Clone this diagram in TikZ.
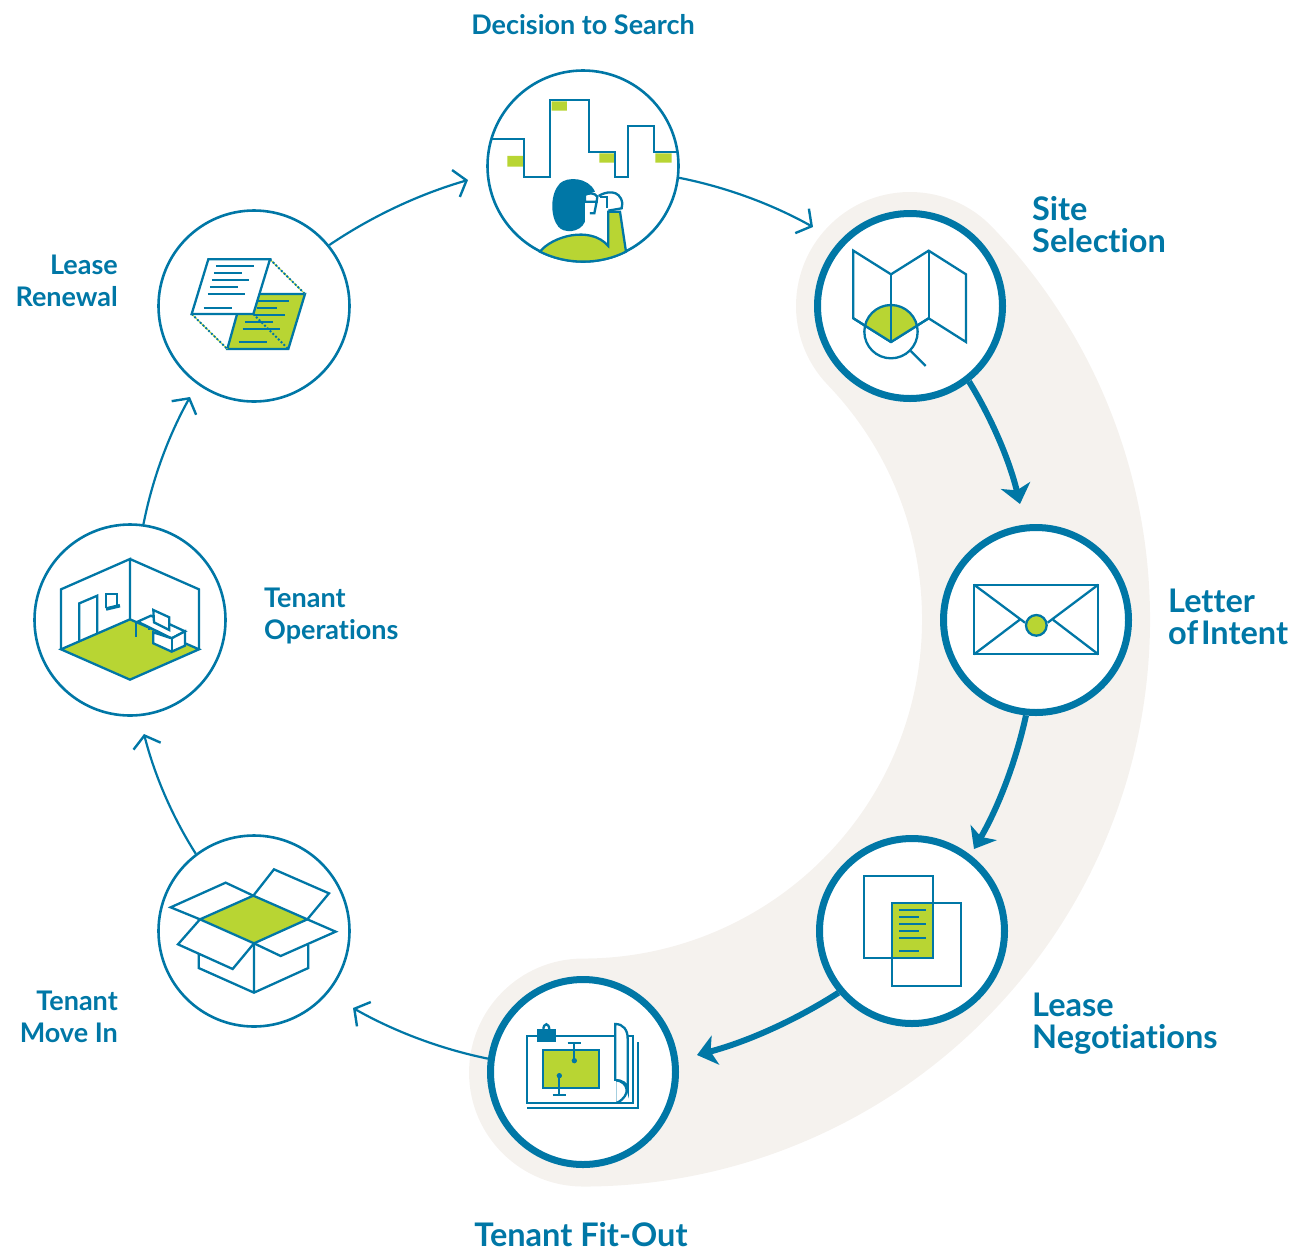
\documentclass[tikz,border=0pt]{standalone}
\usepackage{fontspec}
\usetikzlibrary{arrows.meta}
\setmainfont{Lato}[Ligatures=NoCommon]
\definecolor{leaseblue}{HTML}{0077A6}
\definecolor{leasegreen}{HTML}{B8D533}
\definecolor{leasesand}{HTML}{F5F2EE}
\tikzset{
    stagenode/.style={circle, draw=leaseblue, fill=white, line width=2.6pt, minimum size=191pt, inner sep=0pt},
    activenode/.style={circle, draw=leaseblue, fill=white, line width=7pt, minimum size=185pt, inner sep=0pt},
    smalllabel/.style={font=\fontsize{27}{32}\selectfont\bfseries, text=leaseblue, inner sep=0pt},
    biglabel/.style={font=\fontsize{32.5}{32}\selectfont\bfseries, text=leaseblue, inner sep=0pt},
    thinarrow/.style={draw=leaseblue, line width=2.2pt, -{Straight Barb[length=11pt, width=28pt, line width=2.4pt]}},
    thickarrow/.style={draw=leaseblue, line width=6pt, -{Stealth[length=19pt, width=30pt, inset=5pt]}},
    ringbend/.style={bend left=9, looseness=0.85},
    iconzoom/.style 2 args={shift={(#1,#2)}, x=0.3333pt, y=-0.3333pt},
    iconline/.style={draw=leaseblue, line width=2.3pt, line join=miter},
    iconfill/.style={iconline, fill=leasegreen}
}
\begin{document}
\begin{tikzpicture}[x=1pt, y=-1pt]
    \useasboundingbox (0,0) rectangle (1293,1251);

    % Sand band behind the active stages
    \draw[leasesand, line width=228pt, line cap=round] (910,306) arc[start angle=-43.8, end angle=90, radius=453];

    % Stages
    \node[stagenode] (decision) at (583,166) {};
    \node[activenode] (site) at (910,306) {};
    \node[activenode] (letter) at (1036,620) {};
    \node[activenode] (negotiation) at (912,931) {};
    \node[activenode] (fitout) at (583,1072) {};
    \node[stagenode] (movein) at (254,931) {};
    \node[stagenode] (operations) at (130,620) {};
    \node[stagenode] (renewal) at (254,306) {};

    % Arrow tips
    \coordinate (sitetip) at (813,227);
    \coordinate (lettertip) at (1020,504);
    \coordinate (negotiationtip) at (974,849);
    \coordinate (fitouttip) at (697,1055);
    \coordinate (moveintip) at (353,1008);
    \coordinate (operationstip) at (144,734);
    \coordinate (renewaltip) at (190,397);
    \coordinate (decisiontip) at (468,180);

    % Connectors
    \draw[thinarrow] (decision.-7) to[ringbend] (sitetip);
    \draw[thickarrow] (site.-52.6) to[ringbend] (lettertip);
    \draw[thickarrow] (letter.-96) to[ringbend] (negotiationtip);
    \draw[thickarrow] (negotiation.-140) to[ringbend] (fitouttip);
    \draw[thinarrow] (fitout.172.7) to[ringbend] (moveintip);
    \draw[thinarrow] (movein.127) to[ringbend] (operationstip);
    \draw[thinarrow] (operations.82.9) to[ringbend] (renewaltip);
    \draw[thinarrow] (renewal.39.6) to[ringbend] (decisiontip);

    % Labels
    \node[smalllabel, anchor=base] (decisionlabel) at (583,34) {Decision to Search};
    \node[biglabel, anchor=base west, align=left] (sitelabel) at (1032,252) {Site\\Selection};
    \node[biglabel, anchor=base west, align=left] (letterlabel) at (1168,644) {Letter\\of\hspace{-5pt} Intent};
    \node[biglabel, anchor=base west, align=left] (negotiationlabel) at (1032,1048) {Lease\\Negotiations};
    \node[biglabel, anchor=base] (fitoutlabel) at (581,1246) {Tenant Fit-Out};
    \node[smalllabel, anchor=base east, align=right] (moveinlabel) at (118,1042) {Tenant\\Move In};
    \node[smalllabel, anchor=base west, align=left] (operationslabel) at (264,639) {Tenant\\Operations};
    \node[smalllabel, anchor=base east, align=right] (renewallabel) at (118,306) {Lease\\Renewal};

    % Decision to Search icon
    \begin{scope}[iconzoom={480}{60}]
        \fill[leasegreen] (82,288) rectangle (130,320) (215,124) rectangle (261,152) (358,280) rectangle (404,308) (526,280) rectangle (575,308);
        \draw[iconline] (35,238) -- (132,238) -- (132,352) -- (210,352) -- (210,120) -- (328,120) -- (328,275) -- (406,275) -- (406,352) -- (444,352) -- (444,198) -- (523,198) -- (523,275) -- (595,275);
        \draw[iconfill] (180,575) .. controls (215,530) and (330,495) .. (385,558) -- (385,455) -- (420,455) -- (438,575) .. controls (360,615) and (260,615) .. cycle;
        \fill[leaseblue] (345,395) .. controls (325,350) and (260,350) .. (240,370) .. controls (210,400) and (210,470) .. (235,500) .. controls (250,520) and (300,520) .. (315,485) -- (315,405) -- cycle;
        \draw[iconline, fill=white] (315,425) -- (315,405) .. controls (325,398) and (345,398) .. (352,410) -- (350,425) -- cycle;
        \draw[iconline] (350,425) -- (343,460) -- (330,460);
        \draw[iconline] (356,408) .. controls (375,395) and (420,385) .. (427,430) -- (425,445) -- (385,452);
        \draw[iconline] (360,412) -- (381,412) -- (381,445);
    \end{scope}

    % Site Selection icon
    \begin{scope}[iconzoom={810}{205}]
        \draw[iconline] (130,137) -- (243,208) -- (356,137) -- (468,208) -- (468,411) -- (356,340) -- (243,411) -- (130,340) -- cycle;
        \fill[leasegreen] (243,411) -- (165,362) arc[start angle=-167, end angle=-13, radius=80] -- cycle;
        \draw[iconline] (243,411) -- (130,340) (243,411) -- (356,340);
        \draw[iconline] (243,208) -- (243,411) (356,137) -- (356,340);
        \draw[iconline] (243,380) circle[radius=80];
        \draw[iconline] (302,438) -- (347,483);
    \end{scope}

    % Letter of Intent icon
    \begin{scope}[iconzoom={960}{570}]
        \draw[iconline] (42,44) rectangle (415,253);
        \draw[iconline] (42,44) -- (195,158) (415,44) -- (263,158) (42,253) -- (178,150) (415,253) -- (280,150);
        \draw[iconfill] (229,166) circle[radius=31];
    \end{scope}

    % Lease Negotiations icon
    \begin{scope}[iconzoom={810}{830}]
        \fill[leasegreen] (245,220) rectangle (370,385);
        \draw[iconline] (163,137) rectangle (370,385);
        \draw[iconline] (245,220) rectangle (452,467);
        \foreach \ya/\xb in {240/348,261/328,282/348,302/328,323/348,364/328} {
            \draw[iconline] (267,\ya) -- (\xb,\ya);
        }
    \end{scope}

    % Tenant Fit-Out icon
    \begin{scope}[iconzoom={480}{970}]
        \draw[iconline] (142,414) -- (475,414) -- (475,215);
        \draw[iconline] (140,197) rectangle (460,398);
        \draw[iconfill] (190,241) rectangle (358,353);
        \draw[iconline, fill=white] (406,162) .. controls (430,162) and (443,180) .. (443,205) -- (443,358) .. controls (443,340) and (425,330) .. (406,330) -- cycle;
        \draw[iconline, fill=white] (406,330) .. controls (445,335) and (455,375) .. (412,398) -- (406,398) -- cycle;
        \fill[white] (400,332) rectangle (408,396);
        \fill[leaseblue] (172,178) rectangle (228,217);
        \draw[iconline] (190,180) .. controls (190,157) and (208,157) .. (208,180);
        \draw[iconline] (263,219) -- (302,219) (283,219) -- (283,272);
        \fill[leaseblue] (283,272) circle[radius=8];
        \draw[iconline] (218,376) -- (258,376) (238,376) -- (238,317);
        \fill[leaseblue] (238,317) circle[radius=8];
    \end{scope}

    % Tenant Move In icon
    \begin{scope}[iconzoom={150}{830}]
        \draw[iconline] (146,372) -- (146,414) -- (312,488) -- (475,414) -- (475,345) (312,340) -- (312,488);
        \draw[iconline] (150,268) -- (62,232) -- (227,158) -- (310,197);
        \draw[iconline] (310,197) -- (372,118) -- (537,190) -- (472,268);
        \draw[iconline] (150,268) -- (84,343) -- (248,417) -- (312,340);
        \draw[iconline] (312,340) -- (392,378) -- (557,305) -- (472,268);
        \draw[iconfill] (310,197) -- (472,268) -- (312,340) -- (150,268) -- cycle;
    \end{scope}

    % Tenant Operations icon
    \begin{scope}[iconzoom={25}{515}]
        \draw[iconfill] (108,403) -- (315,313) -- (522,403) -- (315,494) -- cycle;
        \draw[iconline] (108,403) -- (108,223) -- (315,132) -- (315,313) (315,132) -- (522,223) -- (522,403);
        \draw[iconline] (163,378) -- (163,265) -- (217,242) -- (217,355);
        \draw[iconline] (243,280) -- (243,237) -- (276,237) -- (276,275);
        \draw[leaseblue, line width=3.5pt] (243,282) -- (285,272);
        \draw[iconline] (333,322) -- (333,367) (372,336) -- (372,346);
        \draw[iconline, fill=white] (338,320) -- (378,302) -- (480,349) -- (440,370) -- cycle;
        \draw[iconline, fill=white] (385,352) -- (385,385) -- (440,410) -- (480,392) -- (480,349) -- (440,370) -- cycle;
        \draw[iconline] (440,370) -- (440,410);
        \draw[iconline, fill=white] (385,285) -- (433,307) -- (433,345) -- (387,322) -- cycle;
    \end{scope}

    % Lease Renewal icon
    \begin{scope}[iconzoom={150}{205}]
        \draw[iconfill] (278,267) -- (465,267) -- (415,432) -- (232,432) -- cycle;
        \foreach \xa/\xb/\ya in {325/416/287,320/381/308,312/404/329,285/369/350,278/391/371,266/351/411} {
            \draw[iconline] (\xa,\ya) -- (\xb,\ya);
        }
        \draw[leasegreen, line width=1pt] (360,163) -- (465,267) (125,327) -- (232,432);
        \draw[leaseblue, line width=1.9pt, dotted] (360,163) -- (465,267) (125,327) -- (232,432) (310,327) -- (415,432);
        \draw[iconline, fill=white] (175,163) -- (360,163) -- (310,327) -- (125,327) -- cycle;
        \foreach \xa/\xb/\ya in {198/311/184,192/276/205,186/298/226,180/264/246,174/286/267,161/245/308} {
            \draw[iconline] (\xa,\ya) -- (\xb,\ya);
        }
    \end{scope}
\end{tikzpicture}
\end{document}
